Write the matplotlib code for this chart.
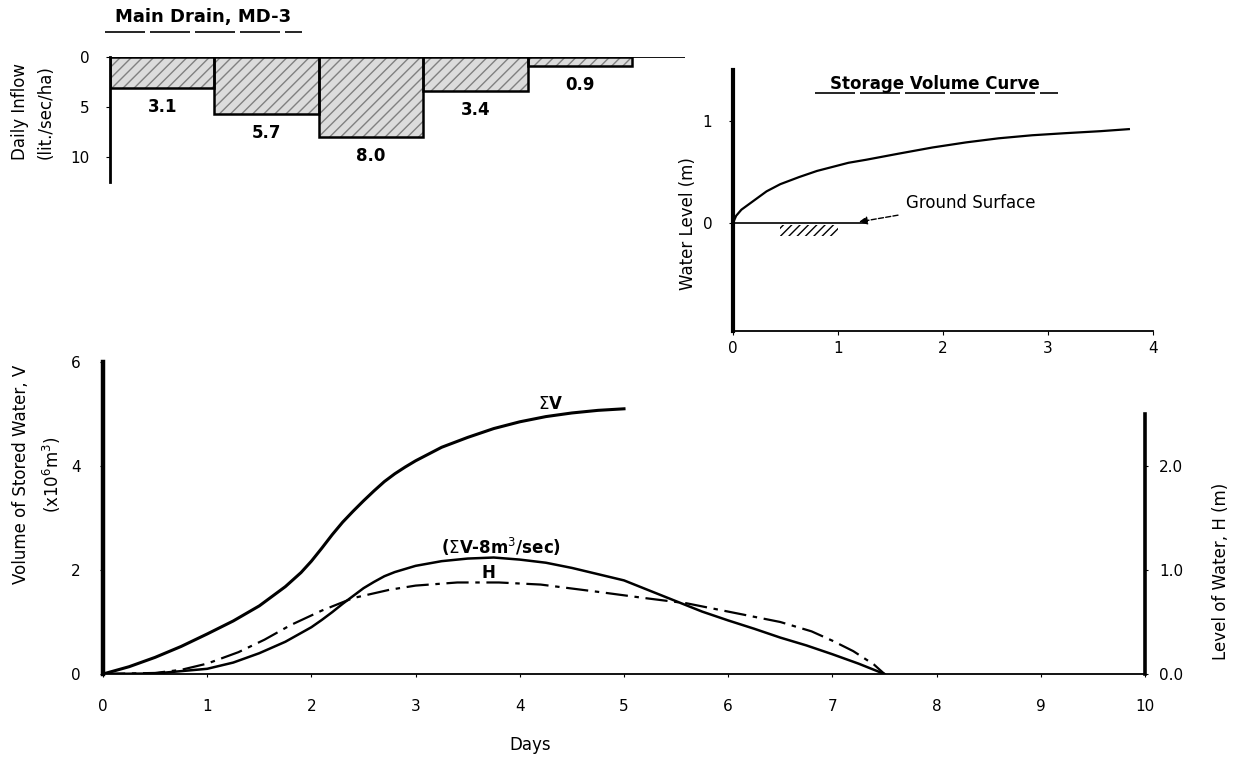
import matplotlib
matplotlib.use('agg')
import matplotlib.pyplot as plt
from matplotlib.lines import Line2D

plt.rcParams['font.family'] = ['DejaVu Sans']
plt.rcParams['font.size'] = 11

# daily inflow of main drain MD-3 (lit./sec/ha), one bar per day
inflow_days = [0, 1, 2, 3, 4]
inflow_vals = [3.1, 5.7, 8.0, 3.4, 0.9]
inflow_labels = ['3.1', '5.7', '8.0', '3.4', '0.9']
inflow_end_day = 5.5

# storage volume curve (x10^6 m3 vs water level m)
sv_volume = [0.0, 0.03, 0.08, 0.16, 0.24, 0.32, 0.45, 0.63, 0.8, 0.95, 1.1, 1.27, 1.58,
             1.90, 2.22, 2.53, 2.85, 3.16, 3.5, 3.77]
sv_level = [0.0, 0.07, 0.13, 0.19, 0.25, 0.31, 0.38, 0.45, 0.51, 0.55, 0.59, 0.62, 0.68,
            0.74, 0.79, 0.83, 0.86, 0.88, 0.90, 0.92]
ground_level = 0.0
ground_end = 1.28
ground_hatch = [0.45, 1.0]

# cumulative stored volume, sum V (x10^6 m3)
sumv_days = [0, 0.25, 0.5, 0.75, 1.0, 1.25, 1.5, 1.75, 1.9, 2.0, 2.1, 2.2, 2.3, 2.4, 2.5,
             2.6, 2.7, 2.8, 2.9, 3.0, 3.25, 3.5, 3.75, 4.0, 4.25, 4.5, 4.75, 5.0]
sumv = [0, 0.14, 0.32, 0.53, 0.77, 1.02, 1.31, 1.68, 1.95, 2.17, 2.42, 2.68, 2.92, 3.13, 3.33,
        3.52, 3.7, 3.85, 3.98, 4.1, 4.36, 4.55, 4.72, 4.85, 4.95, 5.02, 5.07, 5.1]

# sum V minus 8 m3/sec drainage
net_days = [0, 0.5, 1.0, 1.25, 1.5, 1.75, 2.0, 2.1, 2.2, 2.3, 2.4, 2.5, 2.6, 2.7, 2.8, 3.0,
            3.25, 3.5, 3.75, 4.0, 4.25, 4.5, 4.75, 5.0, 5.25, 5.5, 5.75, 6.0, 6.25, 6.5,
            6.75, 7.0, 7.25, 7.5]
net_v = [0, 0.01, 0.1, 0.22, 0.4, 0.62, 0.9, 1.04, 1.19, 1.35, 1.5, 1.65, 1.77, 1.88, 1.96,
         2.08, 2.17, 2.22, 2.24, 2.2, 2.14, 2.04, 1.92, 1.8, 1.6, 1.4, 1.2, 1.03, 0.87, 0.7,
         0.55, 0.38, 0.2, 0.0]

# water level H (m)
h_days = [0, 0.5, 0.75, 1.0, 1.3, 1.55, 1.8, 2.1, 2.4, 2.75, 3.0, 3.4, 3.8, 4.2, 4.75,
          5.2, 5.6, 6.0, 6.5, 6.8, 7.0, 7.2, 7.4, 7.5]
h_level = [0, 0.01, 0.04, 0.1, 0.21, 0.33, 0.47, 0.61, 0.73, 0.81, 0.85, 0.88, 0.88, 0.86,
           0.79, 0.73, 0.68, 0.6, 0.5, 0.41, 0.32, 0.22, 0.09, 0.0]

W, H = 1238, 758
fig = plt.figure(figsize=(W / 100, H / 100), dpi=100)


def px_axes(left, top, right, bottom):
    return fig.add_axes([left / W, 1 - bottom / H, (right - left) / W, (bottom - top) / H])


# ---------------- daily inflow bars ----------------
axb = px_axes(110, 57, 695, 184)
axb.patch.set_visible(False)
axb.bar(inflow_days, inflow_vals, width=1, align='edge', color='#dcdcdc',
        hatch='///', edgecolor='#808080', linewidth=0)
axb.bar(inflow_days, inflow_vals, width=1, align='edge', fill=False,
        edgecolor='black', linewidth=1.8)
axb.hlines(0, 0, inflow_end_day, color='black', lw=1.3)
for d, v, lab in zip(inflow_days, inflow_vals, inflow_labels):
    axb.annotate(lab, (d + 0.5, v), xytext=(0, -7), textcoords='offset points',
                 ha='center', va='top', fontsize=12, fontweight='bold')
axb.set_xlim(0, 5.6)
axb.set_ylim(12.7, 0)
axb.set_yticks([0, 5, 10])
axb.set_xticks([])
for s in ['top', 'right', 'bottom']:
    axb.spines[s].set_visible(False)
axb.spines['left'].set_linewidth(2)
axb.spines['left'].set_bounds(12.5, 0)
axb.tick_params(axis='y', length=3, pad=12, labelsize=11)
axb.set_ylabel('Daily Inflow\n(lit./sec/ha)', fontsize=12, linespacing=1.5)
axb.yaxis.set_label_coords(-0.095, 0.57)
fig.text(203 / W, 1 - 17 / H, 'Main Drain, MD-3', ha='center', va='center',
         fontsize=13, fontweight='bold')
fig.add_artist(Line2D([105 / W, 302 / W], [1 - 32 / H, 1 - 32 / H], color='black',
                      lw=1.2, linestyle=(0, (24, 3))))

# ---------------- storage volume curve inset ----------------
axs = px_axes(733, 70, 1153, 331)
axs.plot(sv_volume, sv_level, color='black', lw=1.6)
axs.hlines(ground_level, 0, ground_end, color='black', lw=1.2)
axs.fill_between(ground_hatch, ground_level - 0.13, ground_level - 0.02, hatch='////',
                 facecolor='none', edgecolor='black', linewidth=0)
axs.annotate('Ground Surface', xy=(ground_end - 0.08, ground_level + 0.01),
             xytext=(1.65, 0.2), va='center', fontsize=12,
             arrowprops=dict(arrowstyle='-|>', color='black', lw=1, linestyle='--',
                             shrinkA=4, shrinkB=0))
axs.set_xlim(0, 4)
axs.set_ylim(-1.06, 1.5)
axs.set_xticks([0, 1, 2, 3, 4])
axs.set_yticks([0, 1])
for s in ['top', 'right']:
    axs.spines[s].set_visible(False)
axs.spines['left'].set_linewidth(3)
axs.spines['bottom'].set_linewidth(1.3)
axs.tick_params(axis='y', length=3, pad=12, labelsize=11)
axs.tick_params(axis='x', length=3, pad=4, labelsize=11)
axs.set_ylabel('Water Level (m)', fontsize=12)
axs.yaxis.set_label_coords(-0.085, 0.41)
axs.set_xlabel('Storage Volume (x10$^6$m$^3$)', fontsize=12)
axs.xaxis.set_label_coords(0.517, -0.13)
axs.text(0.48, 0.945, 'Storage Volume Curve', transform=axs.transAxes, ha='center',
         va='center', fontsize=12, fontweight='bold')
fig.add_artist(Line2D([815 / W, 1058 / W], [1 - 93 / H, 1 - 93 / H], color='black',
                      lw=1.2, linestyle=(0, (24, 3))))

# ---------------- stored volume & water level ----------------
ax = px_axes(103, 362, 1145, 674)
ax.plot(sumv_days, sumv, color='black', lw=2.2)
ax.plot(net_days, net_v, color='black', lw=1.8)
ax.set_xlim(0, 10)
ax.set_ylim(0, 6)
ax.set_xticks(range(11))
ax.set_yticks([0, 2, 4, 6])
for s in ['top', 'right']:
    ax.spines[s].set_visible(False)
ax.spines['left'].set_linewidth(3.2)
ax.spines['bottom'].set_linewidth(1.3)
ax.tick_params(axis='y', length=2, pad=14, labelsize=11)
ax.tick_params(axis='x', length=2, pad=16, labelsize=11)
ax.set_ylabel('Volume of Stored Water, V\n(x10$^6$m$^3$)', fontsize=12, linespacing=1.6)
ax.yaxis.set_label_coords(-0.038, 0.64)
ax.set_xlabel('Days', fontsize=12)
ax.xaxis.set_label_coords(0.41, -0.2)
ax.text(4.3, 5.2, r'$\Sigma$V', ha='center', va='center', fontsize=12, fontweight='bold')
ax.text(3.82, 2.45, r'($\Sigma$V-8m$^3$/sec)', ha='center', va='center', fontsize=12,
        fontweight='bold')
ax.text(3.7, 1.95, 'H', ha='center', va='center', fontsize=12, fontweight='bold')

ax2 = ax.twinx()
ax2.plot(h_days, h_level, color='black', lw=1.6, linestyle=(0, (10, 3, 2, 3)))
ax2.set_ylim(0, 3.0)
ax2.set_yticks([0, 1, 2])
ax2.set_yticklabels(['0.0', '1.0', '2.0'])
for s in ['top', 'left', 'bottom']:
    ax2.spines[s].set_visible(False)
ax2.spines['right'].set_linewidth(2.6)
ax2.spines['right'].set_bounds(0, 2.5)
ax2.tick_params(axis='y', length=2, pad=8, labelsize=11)
ax2.set_ylabel('Level of Water, H (m)', fontsize=12, rotation=90)
ax2.yaxis.set_label_coords(1.064, 0.33)

fig.savefig('out.png', dpi=100)
